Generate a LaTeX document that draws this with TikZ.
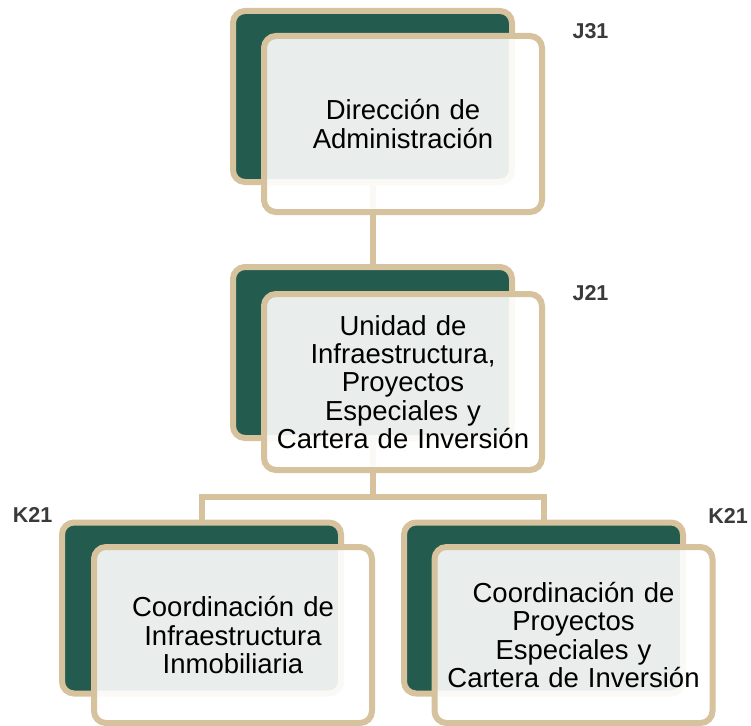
\documentclass[tikz,border=0pt]{standalone}
\usepackage{fontspec}
\setmainfont{Liberation Sans}
\definecolor{tan}{HTML}{D6C29C}
\definecolor{dgreen}{HTML}{235B4E}
\definecolor{labgray}{HTML}{3A3A3A}
\pgfdeclarelayer{bg}
\pgfsetlayers{bg,main}
\tikzset{
  backbox/.style={draw=tan, line width=6pt, fill=dgreen, rounded corners=12pt,
    minimum width=279pt, minimum height=171pt, inner sep=0pt, outer sep=0pt},
  frontbox/.style={draw=tan, line width=6pt, fill=white, fill opacity=0.9, text opacity=1,
    rounded corners=12pt, minimum width=278pt, minimum height=176pt, inner sep=0pt,
    outer sep=0pt, align=center, text width=270pt,
    font=\fontsize{27.5}{28.3}\selectfont, text=black},
  conn/.style={draw=tan, line width=6pt, line join=miter},
  lab/.style={font=\fontsize{21.5}{24}\selectfont\bfseries, text=labgray, inner sep=0pt}
}
\begin{document}
\begin{tikzpicture}[x=1pt,y=-1pt]
\useasboundingbox (0,0) rectangle (751,725);
% back boxes
\node[backbox] (tb) at (372.5,96.5) {};
\node[backbox] (mb) at (372.5,352.5) {};
\node[backbox] (lb) at (201.5,608) {};
\node[backbox] (rb) at (543.5,608) {};
% connectors, behind the boxes
\coordinate (bus) at (372.5,497);
\begin{pgfonlayer}{bg}
\draw[conn] (tb.south) -- (mb.north);
\draw[conn] (mb.south) -- (mb.south |- bus);
\draw[conn] (lb.north) |- (rb.north |- bus) -- (rb.north);
\end{pgfonlayer}
% front boxes
\node[frontbox] (tf) at (403,124) {Dirección de\\Administración};
\node[frontbox] (mf) at (403,382) {Unidad de\\Infraestructura,\\Proyectos\\Especiales y\\Cartera de Inversión};
\node[frontbox] (lf) at (233,635) {Coordinación de\\Infraestructura\\Inmobiliaria};
\node[frontbox] (rf) at (573.5,635) {Coordinación de\\Proyectos\\Especiales y\\Cartera de Inversión};
% labels
\node[lab, anchor=base] (l1) at (590.5,38) {J31};
\node[lab, anchor=base] (l2) at (590.5,300) {J21};
\node[lab, anchor=base] (l3) at (32.5,522) {K21};
\node[lab, anchor=base] (l4) at (728,523) {K21};
\end{tikzpicture}
\end{document}
